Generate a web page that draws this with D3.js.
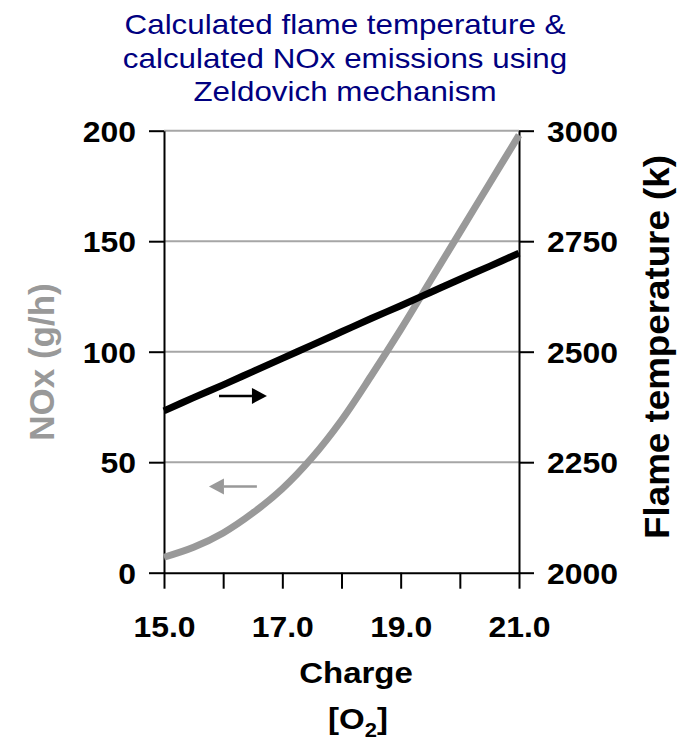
<!DOCTYPE html>
<html>
<head>
<meta charset="utf-8">
<script src="https://cdn.jsdelivr.net/npm/d3@7"></script>
<style>
  body { margin: 0; background: #fff; }
  text { font-family: "Liberation Sans", Arial, sans-serif; }
</style>
</head>
<body>
<div id="chart"></div>
<script>
// values
var charge = [15.0, 15.5, 16.0, 16.5, 17.0, 17.5, 18.0, 18.5, 19.0, 19.5, 20.0, 20.5, 21.0];
var noxValues = [7, 11.5, 18, 27, 38, 52, 69, 89, 110, 132, 154, 176, 198];
var flameTemp = [2366, 2396, 2425, 2455, 2485, 2515, 2545, 2575, 2604, 2634, 2664, 2693, 2723];

var xTicks = [15, 16, 17, 18, 19, 20, 21];
var noxTicks = [0, 50, 100, 150, 200];
var tempTicks = [2000, 2250, 2500, 2750, 3000];

var titleLines = ["Calculated flame temperature &", "calculated NOx emissions using", "Zeldovich mechanism"];

// arrows telling which axis each curve belongs to
var noxArrow = { x: [16.57, 15.76], y: 39 };
var tempArrow = { x: [15.93, 16.74], y: 2400 };

var width = 692, height = 744;
var plot = { left: 164, right: 519, top: 130.7, bottom: 572.7 };
var stretch = 1.1;
var grey = "#999999";

var svg = d3.select("#chart").append("svg")
	.attr("width", width)
	.attr("height", height);

var x = d3.scaleLinear().domain([15, 21]).range([plot.left, plot.right]);
var yNox = d3.scaleLinear().domain([0, 200]).range([plot.bottom, plot.top]);
var yTemp = d3.scaleLinear().domain([2000, 3000]).range([plot.bottom, plot.top]);

// title
titleLines.forEach(function(t, i) {
	svg.append("text")
		.attr("transform", "translate(345," + (34 + i * 33.5) + ") scale(1.12,1)")
		.attr("text-anchor", "middle")
		.style("font-size", "28px")
		.style("fill", "#000080")
		.text(t);
});

// gridlines
svg.append("g").selectAll("line")
	.data(noxTicks.filter(function(d) { return d > 0; }))
	.enter().append("line")
	.attr("x1", plot.left).attr("x2", plot.right)
	.attr("y1", yNox).attr("y2", yNox)
	.attr("stroke", "#a6a6a6")
	.attr("stroke-width", 2);

// axes
var leftAxis = svg.append("g")
	.attr("transform", "translate(" + plot.left + ",0)")
	.call(d3.axisLeft(yNox).tickValues(noxTicks).tickSize(15).tickSizeOuter(0));

var rightAxis = svg.append("g")
	.attr("transform", "translate(" + plot.right + ",0)")
	.call(d3.axisRight(yTemp).tickValues(tempTicks).tickSize(15).tickSizeOuter(0)
		.tickFormat(d3.format("d")));

var bottomAxis = svg.append("g")
	.attr("transform", "translate(0," + plot.bottom + ")")
	.call(d3.axisBottom(x).tickValues(xTicks).tickSize(16).tickSizeOuter(0)
		.tickFormat(function(d) { return d % 2 === 1 ? d.toFixed(1) : ""; }));

[leftAxis, rightAxis, bottomAxis].forEach(function(g) {
	g.select(".domain").attr("stroke", "#000").attr("stroke-width", 2);
	g.selectAll(".tick line").attr("stroke", "#000").attr("stroke-width", 2);
	g.selectAll(".tick text")
		.style("font-size", "29px")
		.style("font-weight", "bold")
		.attr("fill", "#000")
		.attr("transform", "scale(" + stretch + ",1)");
});
leftAxis.selectAll(".tick text").attr("x", -28 / stretch).attr("dy", "0.36em");
rightAxis.selectAll(".tick text").attr("x", 28 / stretch).attr("dy", "0.36em");
bottomAxis.selectAll(".tick text").attr("y", 64).attr("dy", 0);

// axis titles
svg.append("text")
	.attr("transform", "translate(356,683) scale(" + stretch + ",1)")
	.attr("text-anchor", "middle")
	.style("font-size", "30px")
	.style("font-weight", "bold")
	.text("Charge");

var o2 = svg.append("text")
	.attr("transform", "translate(358,729) scale(" + stretch + ",1)")
	.attr("text-anchor", "middle")
	.style("font-size", "30px")
	.style("font-weight", "bold");
o2.append("tspan").text("[O");
o2.append("tspan").attr("dy", 8).style("font-size", "20px").text("2");
o2.append("tspan").attr("dy", -8).text("]");

svg.append("text")
	.attr("transform", "translate(54,362) rotate(-90)")
	.attr("text-anchor", "middle")
	.style("font-size", "35px")
	.style("font-weight", "bold")
	.style("fill", grey)
	.text("NOx (g/h)");

svg.append("text")
	.attr("transform", "translate(669,347) rotate(-90) scale(1.05,1)")
	.attr("text-anchor", "middle")
	.style("font-size", "35px")
	.style("font-weight", "bold")
	.style("fill", "#000")
	.text("Flame temperature (k)");

// curves
var noxLine = d3.line()
	.x(function(d, i) { return x(charge[i]); })
	.y(function(d) { return yNox(d); })
	.curve(d3.curveCatmullRom.alpha(0.5));

var tempLine = d3.line()
	.x(function(d, i) { return x(charge[i]); })
	.y(function(d) { return yTemp(d); })
	.curve(d3.curveCatmullRom.alpha(0.5));

svg.append("path")
	.attr("d", noxLine(noxValues))
	.attr("fill", "none")
	.attr("stroke", grey)
	.attr("stroke-width", 7);

svg.append("path")
	.attr("d", tempLine(flameTemp))
	.attr("fill", "none")
	.attr("stroke", "#000")
	.attr("stroke-width", 7);

// arrows
function drawArrow(x1, x2, yPos, color) {
	var dir = x2 > x1 ? 1 : -1;
	var headLen = 15, headHalf = 8;
	svg.append("line")
		.attr("x1", x1).attr("y1", yPos)
		.attr("x2", x2 - dir * headLen).attr("y2", yPos)
		.attr("stroke", color)
		.attr("stroke-width", 2.5);
	svg.append("path")
		.attr("d", "M" + x2 + "," + yPos +
			"L" + (x2 - dir * headLen) + "," + (yPos - headHalf) +
			"L" + (x2 - dir * headLen) + "," + (yPos + headHalf) + "Z")
		.attr("fill", color);
}

drawArrow(x(tempArrow.x[0]), x(tempArrow.x[1]), yTemp(tempArrow.y), "#000");
drawArrow(x(noxArrow.x[0]), x(noxArrow.x[1]), yNox(noxArrow.y), grey);
</script>
</body>
</html>
